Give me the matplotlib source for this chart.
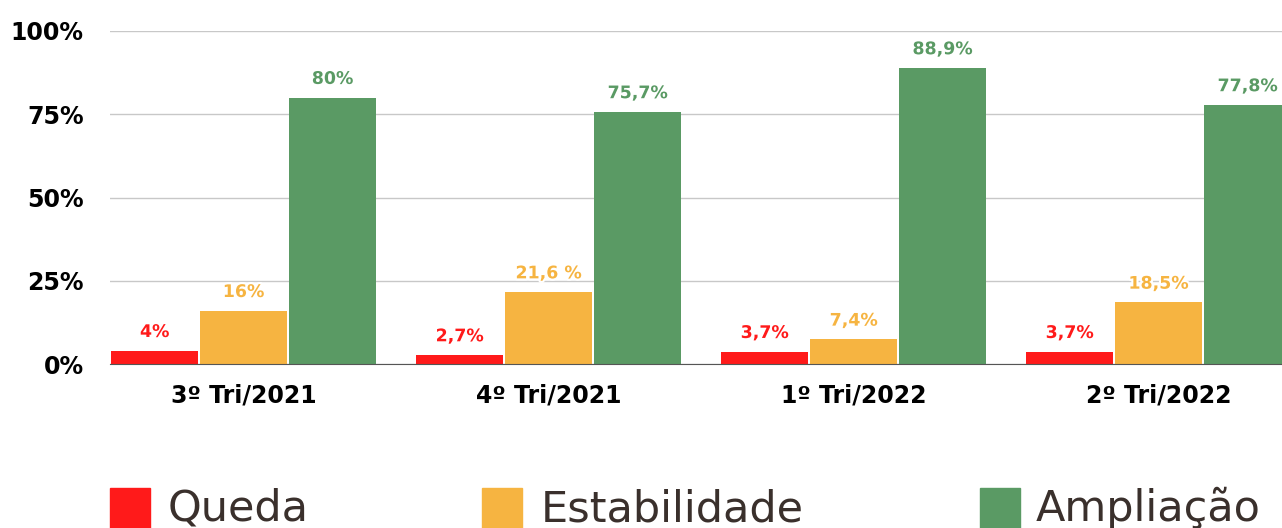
import numpy as np
import matplotlib.pyplot as plt
import matplotlib.patheffects as pe
from matplotlib.patches import Rectangle

# ── Data ──
periodos = ["3º Tri/2021", "4º Tri/2021", "1º Tri/2022", "2º Tri/2022"]
queda = [4.0, 2.7, 3.7, 3.7]
estabilidade = [16.0, 21.6, 7.4, 18.5]
ampliacao = [80.0, 75.7, 88.9, 77.8]
rotulos_queda = ["4%", "2,7%", "3,7%", "3,7%"]
rotulos_estab = ["16%", "21,6 %", "7,4%", "18,5%"]
rotulos_ampl = ["80%", "75,7%", "88,9%", "77,8%"]
nomes = ["Queda", "Estabilidade", "Ampliação"]
cores = ["#FF1A1A", "#F6B441", "#5A9A64"]

plt.rcParams['font.family'] = ['DejaVu Sans']

fig = plt.figure(figsize=(12.82, 5.28), dpi=100)
ax = fig.add_axes([110 / 1282, 1 - 364 / 528, 1 - 110 / 1282, 333 / 528])

x = np.arange(len(periodos))
step = 89 / 305
width = 87 / 305

series = [(queda, rotulos_queda), (estabilidade, rotulos_estab), (ampliacao, rotulos_ampl)]
for k, (vals, rots) in enumerate(series):
    pos = x + (k - 1) * step
    bars = ax.bar(pos, vals, width=width, color=cores[k], zorder=3)
    for b, r in zip(bars, rots):
        ax.annotate(r, (b.get_x() + b.get_width() / 2, b.get_height()),
                    xytext=(0, 7), textcoords='offset points',
                    ha='center', va='bottom', fontsize=12.5, fontweight='bold',
                    color=cores[k], zorder=4,
                    path_effects=[pe.withStroke(linewidth=3, foreground='white')])

ax.set_ylim(0, 100)
ax.set_xlim(-0.438, (1282 - 243.5) / 305)
ax.set_yticks([0, 25, 50, 75, 100])
ax.set_yticklabels(["0%", "25%", "50%", "75%", "100%"])
ax.set_xticks(x)
ax.set_xticklabels(periodos)
ax.tick_params(axis='both', length=0, labelsize=17)
ax.tick_params(axis='y', pad=19)
ax.tick_params(axis='x', pad=14)
for lab in ax.get_xticklabels() + ax.get_yticklabels():
    lab.set_fontweight('bold')

ax.grid(axis='y', color='#c8c8c8', linewidth=1, zorder=0)
for s in ['top', 'right', 'left']:
    ax.spines[s].set_visible(False)
ax.spines['bottom'].set_color('#555555')
ax.spines['bottom'].set_zorder(5)

# legenda manual (cortada na borda inferior, como no original)
leg_x = [110, 482, 980]
txt_x = [168, 541, 1036]
for k in range(3):
    fig.patches.append(Rectangle((leg_x[k] / 1282, -0.05), 40 / 1282, 0.05 + 40 / 528,
                                 transform=fig.transFigure, color=cores[k]))
    fig.text(txt_x[k] / 1282, 1 - 521 / 528, nomes[k], fontsize=31,
             color='#3a302c', va='baseline', ha='left')

fig.savefig("out.png", dpi=100)
